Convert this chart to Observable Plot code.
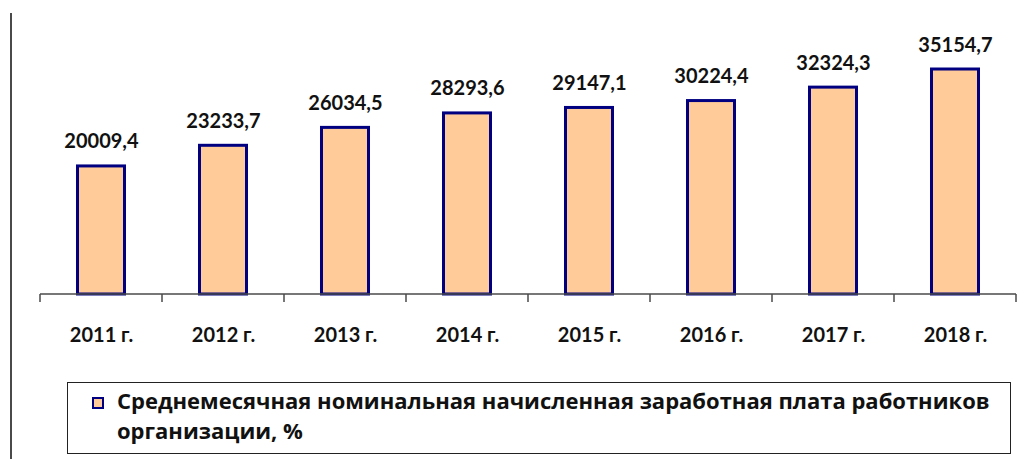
<!DOCTYPE html>
<html>
<head>
<meta charset="utf-8">
<script src="https://cdn.jsdelivr.net/npm/d3@7"></script>
<script src="https://cdn.jsdelivr.net/npm/@observablehq/plot@0.6"></script>
<style>
  html, body { margin: 0; padding: 0; background: #fff; }
  #wrap { position: relative; width: 1032px; height: 459px; overflow: hidden; background: #fff; font-family: Lato, "Open Sans", sans-serif; }
  #vline { position: absolute; left: 10px; top: 13px; width: 1.5px; height: 446px; background: #4a4a4a; }
  #chart { position: absolute; left: 0; top: 0; }
  #legend { position: absolute; left: 67px; top: 382px; width: 944px; height: 72px; box-sizing: border-box; border: 1.5px solid #222; background: #fff; }
  #swatch { position: absolute; left: 92px; top: 397px; width: 12px; height: 12px; box-sizing: border-box; border: 2.5px solid #000080; background: #FFCC99; }
  #legtext { position: absolute; left: 117px; top: 385px; font-family: "Open Sans", Lato, sans-serif; font-weight: 700; font-size: 22px; line-height: 30px; color: #111; white-space: nowrap; }
</style>
</head>
<body>
<div id="wrap">
  <div id="vline"></div>
  <div id="chart"></div>
  <div id="legend"></div>
  <div id="swatch"></div>
  <div id="legtext"></div>
</div>
<script>
const years = ["2011 г.", "2012 г.", "2013 г.", "2014 г.", "2015 г.", "2016 г.", "2017 г.", "2018 г."];
const values = [20009.4, 23233.7, 26034.5, 28293.6, 29147.1, 30224.4, 32324.3, 35154.7];
const valueLabels = ["20009,4", "23233,7", "26034,5", "28293,6", "29147,1", "30224,4", "32324,3", "35154,7"];
const legendLines = ["Среднемесячная номинальная начисленная заработная плата работников", "организации, %"];

const data = years.map((year, i) => ({year, value: values[i], label: valueLabels[i]}));

const axisLine = (index, scales) => {
  const x = scales.x, y = scales.y;
  const step = x(years[1]) - x(years[0]);
  const y0 = y(0);
  const edges = years.map(d => x(d)).concat([x(years[years.length - 1]) + step]);
  const g = d3.create("svg:g").attr("stroke", "#4a4a4a").attr("stroke-width", 1.5);
  g.append("line").attr("x1", edges[0]).attr("x2", edges[edges.length - 1]).attr("y1", y0).attr("y2", y0);
  edges.forEach(e => g.append("line").attr("x1", e).attr("x2", e).attr("y1", y0).attr("y2", y0 + 8));
  return g.node();
};

const chart = Plot.plot({
  width: 1032,
  height: 360,
  marginLeft: 37,
  marginRight: 14,
  marginTop: 38,
  marginBottom: 66,
  style: {fontFamily: "Lato, 'Open Sans', sans-serif", background: "transparent", color: "#111"},
  x: {domain: years, padding: 0, label: null},
  y: {domain: [0, 40000], axis: null},
  marks: [
    Plot.barY(data, {x: "year", y: "value", fill: "#FFCC99", stroke: "#000080", strokeWidth: 3, insetLeft: 37.5, insetRight: 37.5}),
    axisLine,
    Plot.text(data, {x: "year", y: "value", text: "label", lineAnchor: "bottom", dy: -18, fontSize: 20, fontWeight: 700, fill: "#111"}),
    Plot.axisX({tickSize: 0, tickPadding: 33, fontSize: 20, fontWeight: 700, fill: "#111", label: null})
  ]
});
document.getElementById("chart").appendChild(chart);
document.getElementById("legtext").innerHTML = legendLines.join("<br>");
</script>
</body>
</html>
